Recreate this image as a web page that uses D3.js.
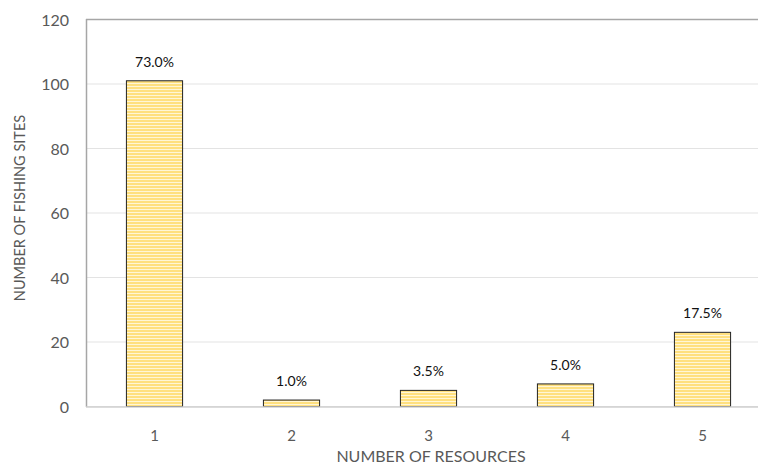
<!DOCTYPE html>
<html><head><meta charset="utf-8">
<script src="https://cdn.jsdelivr.net/npm/d3@7"></script>
<style>body{margin:0;background:#fff}svg{display:block}</style>
</head><body>
<svg id="c" width="758" height="464"></svg>
<script>
const categories = ["1","2","3","4","5"];
const values = [101, 2, 5, 7, 23];
const labels = ["73.0%","1.0%","3.5%","5.0%","17.5%"];
const yTicks = [0,20,40,60,80,100,120];

const svg = d3.select("#c");
const font = "Lato, 'Open Sans', sans-serif";
const x = d3.scaleBand().domain(categories).range([86, 771]).paddingInner(0.59).paddingOuter(0.295);
const y = d3.scaleLinear().domain([0,120]).range([406.5, 19.5]);

const defs = svg.append("defs");
const pat = defs.append("pattern").attr("id","stripes").attr("patternUnits","userSpaceOnUse")
  .attr("width",6).attr("height",3);
pat.append("rect").attr("width",6).attr("height",3).attr("fill","#fff6d6");
pat.append("rect").attr("width",6).attr("height",2).attr("fill","#ffe07f");

// gridlines
svg.append("g").selectAll("line").data(yTicks).join("line")
  .attr("x1",86).attr("x2",758).attr("y1",d=>y(d)).attr("y2",d=>y(d))
  .attr("stroke",d=>d===120?"#a6a6a6":"#e3e3e3").attr("stroke-width",d=>d===120?1.5:1);

// y axis line
svg.append("line").attr("x1",86.5).attr("x2",86.5).attr("y1",19).attr("y2",407)
  .attr("stroke","#a6a6a6").attr("stroke-width",1.5);

// bars
svg.append("g").selectAll("rect").data(values).join("rect")
  .attr("x",(d,i)=>x(categories[i])).attr("width",x.bandwidth())
  .attr("y",d=>y(d)).attr("height",d=>y(0)-y(d))
  .attr("fill","url(#stripes)").attr("stroke","#222").attr("stroke-width",1);

// x axis baseline
svg.append("line").attr("x1",86).attr("x2",758).attr("y1",407).attr("y2",407)
  .attr("stroke","#d0d0d0").attr("stroke-width",1.5);

// value labels
svg.append("g").selectAll("text").data(values).join("text")
  .attr("x",(d,i)=>x(categories[i])+x.bandwidth()/2).attr("y",d=>y(d)-14)
  .attr("text-anchor","middle").attr("font-family",font).attr("font-size",14).attr("fill","#111")
  .text((d,i)=>labels[i]);

// y tick labels
svg.append("g").selectAll("text").data(yTicks).join("text")
  .attr("x",69).attr("y",d=>y(d)+6).attr("text-anchor","end")
  .attr("font-family",font).attr("font-size",16).attr("fill","#595959").text(d=>d);

// x tick labels
svg.append("g").selectAll("text").data(categories).join("text")
  .attr("x",d=>x(d)+x.bandwidth()/2).attr("y",441).attr("text-anchor","middle")
  .attr("font-family",font).attr("font-size",15).attr("fill","#595959").text(d=>d);

// axis titles
svg.append("text").attr("x",431).attr("y",462).attr("text-anchor","middle")
  .attr("font-family",font).attr("font-size",16).attr("fill","#595959").text("NUMBER OF RESOURCES");
svg.append("text").attr("transform","translate(25,208) rotate(-90)").attr("text-anchor","middle")
  .attr("font-family",font).attr("font-size",14.5).attr("fill","#595959").text("NUMBER OF FISHING SITES");
</script>
</body></html>
